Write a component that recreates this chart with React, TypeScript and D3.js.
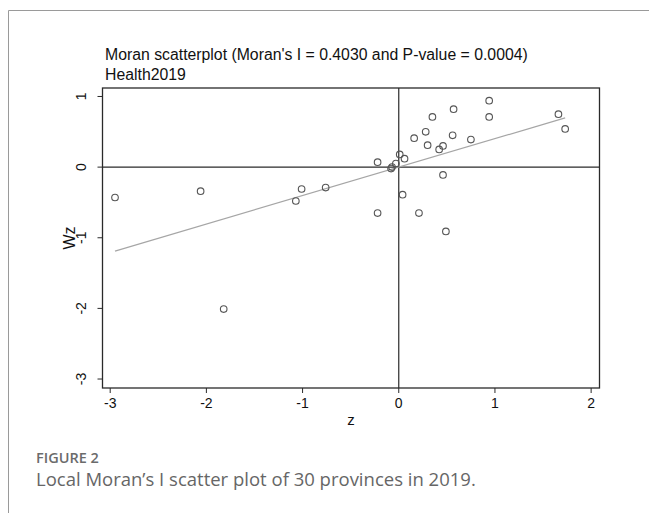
import React from 'react';
import * as d3 from 'd3';

// standardized Health2019 values (z) and their spatial lags (Wz)
const zValues = [
  -2.95, -2.06, -1.07, -1.01, -0.76, -1.82,
  0.94, 0.57, 0.35, 0.94, 1.66, 1.73, 0.28, 0.56, 0.16, 0.75,
  0.3, 0.46, 0.42, 0.01, 0.06, -0.22, -0.03, -0.07, -0.08,
  0.46, 0.04, -0.22, 0.21, 0.49
];
const wzValues = [
  -0.43, -0.34, -0.48, -0.31, -0.29, -2.01,
  0.94, 0.82, 0.71, 0.71, 0.75, 0.54, 0.5, 0.45, 0.41, 0.39,
  0.31, 0.3, 0.25, 0.18, 0.12, 0.07, 0.05, 0.0, -0.02,
  -0.11, -0.39, -0.65, -0.65, -0.91
];
const xTicks = [-3, -2, -1, 0, 1, 2];
const yTicks = [1, 0, -1, -2, -3];
const moranI = 0.403;
const pValue = 0.0004;

const W = 649;
const H = 513;
const plot = { left: 102.5, right: 599.5, top: 88, bottom: 388 };

const axisFont = '"Liberation Sans", Arial, sans-serif';

const App = () => {
  const x = d3.scaleLinear().domain([-3.08, 2.087]).range([plot.left, plot.right]);
  const y = d3.scaleLinear().domain([-3.127, 1.12]).range([plot.bottom, plot.top]);

  const points = zValues.map((z, i) => ({ z, wz: wzValues[i] }));
  const zExtent = d3.extent(zValues) as [number, number];
  const fit = d3
    .line<number>()
    .x((d) => x(d))
    .y((d) => y(moranI * d));

  const axisColor = '#2a2a2a';

  return (
    <svg
      width={W}
      height={H}
      style={{ position: 'absolute', left: 0, top: 0, background: '#fff' }}
    >
      {/* page frame */}
      <path d={`M8.5,${H} V10.5 H${W}`} fill="none" stroke="#9a9a9a" strokeWidth={1} />

      {/* titles */}
      <text x={105} y={60} fontFamily={axisFont} fontSize={15.8} fill="#111">
        {`Moran scatterplot (Moran's I = ${moranI.toFixed(4)} and P-value = ${pValue.toFixed(4)})`}
      </text>
      <text x={105} y={80} fontFamily={axisFont} fontSize={15.8} fill="#111">
        Health2019
      </text>

      {/* quadrant lines */}
      <line x1={x(0)} x2={x(0)} y1={plot.top} y2={plot.bottom} stroke={axisColor} strokeWidth={1.2} />
      <line x1={plot.left} x2={plot.right} y1={y(0)} y2={y(0)} stroke={axisColor} strokeWidth={1.2} />

      {/* fitted line */}
      <path d={fit(zExtent) ?? ''} fill="none" stroke="#a6a6a6" strokeWidth={1.2} />

      {/* points */}
      {points.map((d, i) => (
        <circle
          key={i}
          cx={x(d.z)}
          cy={y(d.wz)}
          r={3.3}
          fill="none"
          stroke="#555"
          strokeWidth={1.1}
        />
      ))}

      {/* plot border */}
      <rect
        x={plot.left}
        y={plot.top}
        width={plot.right - plot.left}
        height={plot.bottom - plot.top}
        fill="none"
        stroke={axisColor}
        strokeWidth={1.3}
      />

      {/* x axis */}
      {xTicks.map((t) => (
        <g key={`x${t}`} transform={`translate(${x(t)},${plot.bottom})`}>
          <line y1={0} y2={5} stroke={axisColor} strokeWidth={1} />
          <text y={20} textAnchor="middle" fontFamily={axisFont} fontSize={14} fill="#111">
            {t}
          </text>
        </g>
      ))}
      <text
        x={(plot.left + plot.right) / 2}
        y={425}
        textAnchor="middle"
        fontFamily={axisFont}
        fontSize={15}
        fill="#111"
      >
        z
      </text>

      {/* y axis */}
      {yTicks.map((t) => (
        <g key={`y${t}`} transform={`translate(${plot.left},${y(t)})`}>
          <line x1={-5} x2={0} stroke={axisColor} strokeWidth={1} />
          <text
            transform="translate(-16.5,0) rotate(-90)"
            textAnchor="middle"
            fontFamily={axisFont}
            fontSize={14}
            fill="#111"
          >
            {t}
          </text>
        </g>
      ))}
      <text
        transform={`translate(75,${(plot.top + plot.bottom) / 2}) rotate(-90)`}
        textAnchor="middle"
        fontFamily={axisFont}
        fontSize={16}
        fill="#111"
      >
        Wz
      </text>

      {/* caption */}
      <text x={36} y={463} fontFamily='"Open Sans", sans-serif' fontSize={14.5} fontWeight={600} fill="#6b6b6b">
        FIGURE 2
      </text>
      <text x={36} y={486} fontFamily='"Open Sans", sans-serif' fontSize={18.5} fill="#666">
        Local Moran’s I scatter plot of 30 provinces in 2019.
      </text>
    </svg>
  );
};

export default App;
